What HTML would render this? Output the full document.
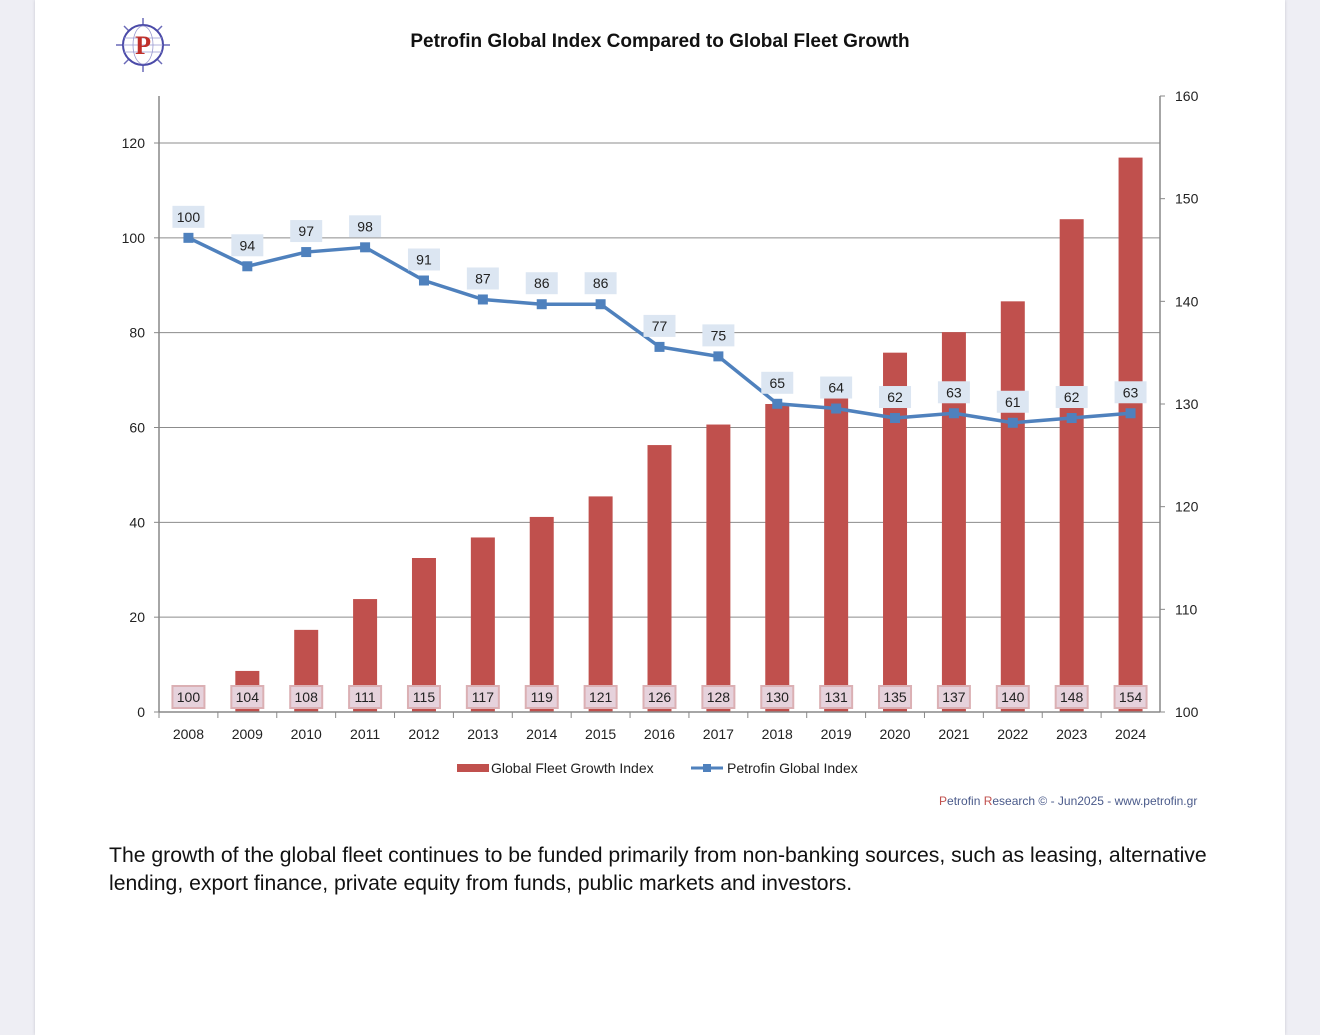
<!DOCTYPE html>
<html><head><meta charset="utf-8">
<style>
html,body{margin:0;padding:0;}
body{width:1320px;height:1035px;background:#eeeef4;position:relative;overflow:hidden;font-family:"Liberation Sans",sans-serif;}
#page{position:absolute;left:35px;top:0;width:1250px;height:1035px;background:#fff;box-shadow:0 0 3px #c8c8d0;}
#para{position:absolute;left:109px;top:842px;font-size:21.2px;line-height:28px;color:#111;width:1140px;}
</style></head>
<body>
<div id="page"></div>
<svg id="chart" width="1320" height="1035" style="position:absolute;left:0;top:0">
<g transform="translate(143,45)">
 <g stroke="#6a6ab8" stroke-width="1.5">
  <line x1="-27" y1="0" x2="27" y2="0"/><line x1="0" y1="-27" x2="0" y2="27"/>
  <line x1="-19" y1="-19" x2="19" y2="19"/><line x1="-19" y1="19" x2="19" y2="-19"/>
 </g>
 <circle r="20" fill="#fff" stroke="#4a4aa8" stroke-width="2"/>
 <g stroke="#9a9ad0" stroke-width="0.8" fill="none">
  <ellipse rx="10" ry="19"/><line x1="-19" y1="-7" x2="19" y2="-7"/><line x1="-19" y1="7" x2="19" y2="7"/><line x1="-20" y1="0" x2="20" y2="0"/>
 </g>
 <text x="0" y="9" text-anchor="middle" font-family="Liberation Serif,serif" font-weight="bold" font-size="26" fill="#c0302a">P</text>
</g>
<text x="660" y="47" text-anchor="middle" font-size="19" font-weight="bold" fill="#111">Petrofin Global Index Compared to Global Fleet Growth</text>
<g id="grid"></g><g id="bars"></g><g id="axes"></g><g id="line"></g><g id="labels"></g>
<g>
 <g><rect x="457" y="764" width="32" height="8" fill="#c0504d"/><text x="491" y="773" font-size="14" fill="#222">Global Fleet Growth Index</text></g>
 <g><line x1="691" y1="768" x2="723" y2="768" stroke="#4f81bd" stroke-width="3"/><rect x="703" y="764" width="8" height="8" fill="#4f81bd"/><text x="727" y="773" font-size="14" fill="#222">Petrofin Global Index</text></g>
</g>
<text x="939" y="805" font-size="12" fill="#4a5a8a"><tspan fill="#c0504d">P</tspan>etrofin <tspan fill="#c0504d">R</tspan>esearch © - Jun2025 - www.petrofin.gr</text>
</svg>
<div id="para">The growth of the global fleet continues to be funded primarily from non-banking sources, such as leasing, alternative lending, export finance, private equity from funds, public markets and investors.</div>
<script>
const years=[2008,2009,2010,2011,2012,2013,2014,2015,2016,2017,2018,2019,2020,2021,2022,2023,2024];
const fleetIndex=[100,104,108,111,115,117,119,121,126,128,130,131,135,137,140,148,154];
const petrofinIndex=[100,94,97,98,91,87,86,86,77,75,65,64,62,63,61,62,63];
const leftTicks=[0,20,40,60,80,100,120];
const rightTicks=[100,110,120,130,140,150,160];
const NS="http://www.w3.org/2000/svg";
const X0=159,X1=1160,TOPY=96,BOT=712;
const step=(X1-X0)/years.length;
const xAt=i=>X0+step*(i+0.5);
const yL=v=>BOT-v*(BOT-143)/120;
const yR=v=>BOT-(v-100)*(BOT-TOPY)/60;
function mk(tag,at,parent){const e=document.createElementNS(NS,tag);for(const k in at)e.setAttribute(k,at[k]);document.getElementById(parent).appendChild(e);return e;}
leftTicks.forEach(t=>{
 if(t>0){const g=mk('line',{x1:X0,x2:X1,y1:yL(t),y2:yL(t),stroke:'#8c8c8c','stroke-width':1},'grid');
 
 }
 const tx=mk('text',{x:145,y:yL(t)+5,'text-anchor':'end','font-size':14,fill:'#222'},'axes');tx.textContent=t;
 
 
 mk('line',{x1:X0-5,x2:X0,y1:yL(t),y2:yL(t),stroke:'#888'},'axes');
});
rightTicks.forEach(t=>{
 const tx=mk('text',{x:1175,y:yR(t)+5,'font-size':14,fill:'#222'},'axes');tx.textContent=t;
 
 
 mk('line',{x1:X1,x2:X1+5,y1:yR(t),y2:yR(t),stroke:'#888'},'axes');
});
mk('line',{x1:X0,x2:X0,y1:TOPY,y2:BOT,stroke:'#888','stroke-width':1.5},'axes');
mk('line',{x1:X1,x2:X1,y1:TOPY,y2:BOT,stroke:'#888','stroke-width':1.5},'axes');
mk('line',{x1:X0,x2:X1,y1:BOT,y2:BOT,stroke:'#888','stroke-width':1.5},'axes');
years.forEach((yr,i)=>{
 mk('line',{x1:X0+step*i,x2:X0+step*i,y1:BOT,y2:BOT+6,stroke:'#888'},'axes');
 const tx=mk('text',{x:xAt(i),y:739,'text-anchor':'middle','font-size':14,fill:'#222'},'axes');tx.textContent=yr;
 
 
 const h=BOT-yR(fleetIndex[i]);
 const b=mk('rect',{x:xAt(i)-12,y:yR(fleetIndex[i]),width:24,height:Math.max(h,0),fill:'#c0504d'},'bars');
 
 
 const lb=mk('rect',{x:xAt(i)-16,y:686,width:32,height:22,fill:'#e6d2dc',stroke:'#dbb0b4','stroke-width':2},'labels');
 
 
 const lt=mk('text',{x:xAt(i),y:702,'text-anchor':'middle','font-size':14,fill:'#222'},'labels');lt.textContent=fleetIndex[i];
 
 
});
const pts=petrofinIndex.map((v,i)=>xAt(i)+','+yL(v)).join(' ');
const pl=mk('polyline',{points:pts,fill:'none',stroke:'#4f81bd','stroke-width':3.5,'stroke-linejoin':'round'},'line');


petrofinIndex.forEach((v,i)=>{
 const m=mk('rect',{x:xAt(i)-5,y:yL(v)-5,width:10,height:10,fill:'#4f81bd'},'line');
 
 
 const bx=mk('rect',{x:xAt(i)-16,y:yL(v)-32,width:32,height:22,fill:'#dce6f2'},'labels');
 
 
 const t=mk('text',{x:xAt(i),y:yL(v)-16,'text-anchor':'middle','font-size':14,fill:'#222'},'labels');t.textContent=v;
 
 
});
</script>
</body></html>
